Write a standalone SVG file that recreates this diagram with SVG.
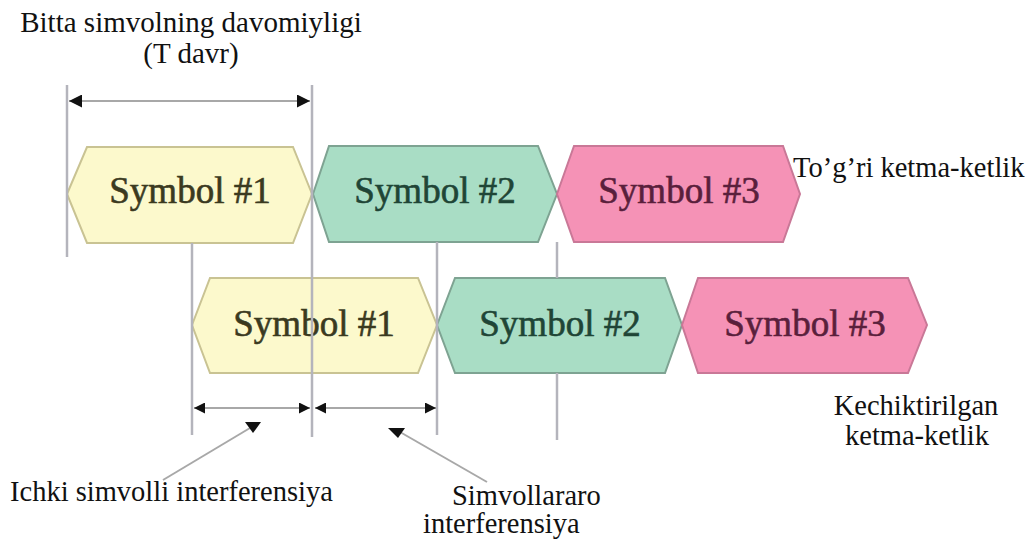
<svg xmlns="http://www.w3.org/2000/svg" width="1035" height="540" viewBox="0 0 1035 540">
<defs>
<marker id="ah" viewBox="0 0 10 10" refX="10" refY="5" markerWidth="16" markerHeight="13" markerUnits="userSpaceOnUse" orient="auto-start-reverse">
<path d="M0,0 L10,5 L0,10 Z" fill="#111"/>
</marker>
<marker id="ahs" viewBox="0 0 10 10" refX="10" refY="5" markerWidth="14" markerHeight="11" markerUnits="userSpaceOnUse" orient="auto-start-reverse">
<path d="M0,0 L10,5 L0,10 Z" fill="#111"/>
</marker>
</defs>
<rect width="1035" height="540" fill="#fff"/>

<g id="nodes">
<g id="top-symbol-1"><polygon fill="#fcf9cc" stroke="#c9c393" stroke-width="2" points="67,194 87,147 293,147 312,194 293,243 87,243"/><text x="190" y="203" font-family="Liberation Serif" font-size="37" text-anchor="middle" fill="#3b3a1f" stroke="#3b3a1f" stroke-width="0.6">Symbol #1</text></g>
<g id="top-symbol-2"><polygon fill="#a9ddc5" stroke="#7ea392" stroke-width="2" points="313,194 329,146 538,146 557,194 538,242 329,242"/><text x="435" y="203" font-family="Liberation Serif" font-size="37" text-anchor="middle" fill="#1f4536" stroke="#1f4536" stroke-width="0.6">Symbol #2</text></g>
<g id="top-symbol-3"><polygon fill="#f592b6" stroke="#c97897" stroke-width="2" points="557,194 574,146 783,146 800,194 783,242 574,242"/><text x="679" y="203" font-family="Liberation Serif" font-size="37" text-anchor="middle" fill="#5a1f3c" stroke="#5a1f3c" stroke-width="0.6">Symbol #3</text></g>
<g id="del-symbol-1"><polygon fill="#fcf9cc" stroke="#c9c393" stroke-width="2" points="192,325 210,278 418,278 437,325 418,373 210,373"/><text x="314" y="336" font-family="Liberation Serif" font-size="37" text-anchor="middle" fill="#3b3a1f" stroke="#3b3a1f" stroke-width="0.6">Symbol #1</text></g>
<g id="del-symbol-2"><polygon fill="#a9ddc5" stroke="#7ea392" stroke-width="2" points="437,325 455,278 665,278 682,325 665,373 455,373"/><text x="560" y="336" font-family="Liberation Serif" font-size="37" text-anchor="middle" fill="#1f4536" stroke="#1f4536" stroke-width="0.6">Symbol #2</text></g>
<g id="del-symbol-3"><polygon fill="#f592b6" stroke="#c97897" stroke-width="2" points="682,325 698,278 908,278 927,325 908,373 698,373"/><text x="805" y="336" font-family="Liberation Serif" font-size="37" text-anchor="middle" fill="#5a1f3c" stroke="#5a1f3c" stroke-width="0.6">Symbol #3</text></g>
</g>

<g id="connectors" fill="none">
<g stroke="#b4b4bc" stroke-width="2.5">
<line x1="67" y1="85" x2="67" y2="257"/>
<line x1="312" y1="85" x2="312" y2="437"/>
<line x1="192" y1="243" x2="192" y2="435"/>
<line x1="437" y1="242" x2="437" y2="435"/>
<line x1="557" y1="242" x2="557" y2="278"/>
<line x1="557" y1="373" x2="557" y2="440"/>
</g>
<g stroke="#a8a8a8" stroke-width="2">
<line x1="69" y1="101" x2="310" y2="101" marker-start="url(#ah)" marker-end="url(#ah)"/>
<line x1="194" y1="408" x2="310" y2="408" marker-start="url(#ahs)" marker-end="url(#ahs)"/>
<line x1="315" y1="408" x2="436" y2="408" marker-start="url(#ahs)" marker-end="url(#ahs)"/>
<line x1="163" y1="480" x2="250" y2="428"/>
<line x1="487" y1="482" x2="400" y2="432"/>
</g>
<polygon points="245,422 261,422 253,433" fill="#111"/>
<polygon points="388,428 405,428 398,438" fill="#111"/>
</g>

<g id="labels">
<text x="191" y="32" font-family="Liberation Serif" font-size="29" text-anchor="middle" fill="#111">Bitta simvolning davomiyligi</text>
<text x="191" y="63" font-family="Liberation Serif" font-size="29" text-anchor="middle" fill="#111">(T davr)</text>
<text x="793" y="177" font-family="Liberation Serif" font-size="28.5" fill="#111">To’g’ri ketma-ketlik</text>
<text x="916" y="415" font-family="Liberation Serif" font-size="28.5" text-anchor="middle" fill="#111">Kechiktirilgan</text>
<text x="917" y="445" font-family="Liberation Serif" font-size="28.5" text-anchor="middle" fill="#111">ketma-ketlik</text>
<text x="10" y="501" font-family="Liberation Serif" font-size="28.5" fill="#111">Ichki simvolli interferensiya</text>
<text x="452" y="505" font-family="Liberation Serif" font-size="28.5" fill="#111">Simvollararo</text>
<text x="423" y="533" font-family="Liberation Serif" font-size="28.5" fill="#111">interferensiya</text>
</g>
</svg>
